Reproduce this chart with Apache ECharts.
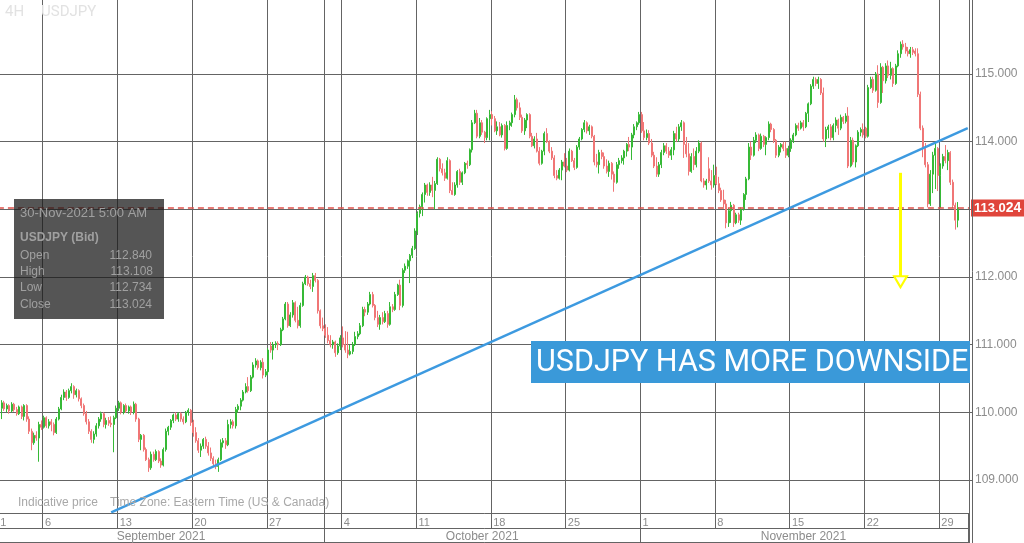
<!DOCTYPE html>
<html><head><meta charset="utf-8">
<script src="https://cdn.jsdelivr.net/npm/echarts/dist/echarts.min.js"></script>
<style>html,body{margin:0;padding:0;background:#fff}#c{width:1024px;height:543px}</style>
</head><body><div id="c"></div><script>
// ---- DATA: 4H USDJPY candles [open, close, low, high] ----
const wk0 = [[110.30,110.06,110.02,110.38],[110.06,110.14,109.90,110.18],[110.14,110.05,110.02,110.17],[110.05,110.10,110.00,110.13],[110.10,110.02,109.98,110.12],[110.02,110.12,110.00,110.15],[110.12,110.04,110.01,110.14],[110.04,109.98,109.95,110.08],[109.98,110.08,109.96,110.10],[110.08,109.94,109.90,110.10],[109.94,110.10,109.88,110.12],[110.10,109.90,109.86,110.12],[109.90,109.72,109.68,109.94],[109.72,109.55,109.44,109.76],[109.55,109.66,109.52,109.70],[109.66,109.62,109.58,109.72],[109.62,109.82,109.27,109.86],[109.82,109.78,109.74,109.88]];
const wk1 = [[109.78,109.92,109.76,109.95],[109.92,109.80,109.77,109.94],[109.80,109.86,109.76,109.90],[109.86,109.82,109.72,109.90],[109.82,109.70,109.66,109.85],[109.70,109.90,109.68,109.93],[109.90,110.05,109.88,110.08],[110.05,110.22,110.03,110.26],[110.22,110.30,110.18,110.34],[110.30,110.22,110.17,110.33],[110.22,110.32,110.20,110.35],[110.32,110.38,110.28,110.43],[110.38,110.26,110.20,110.40],[110.26,110.32,110.22,110.35],[110.32,110.20,110.16,110.34],[110.20,110.10,110.06,110.22],[110.10,109.98,109.95,110.13],[109.98,109.86,109.82,110.02],[109.86,109.72,109.68,109.90],[109.72,109.60,109.55,109.75],[109.60,109.68,109.54,109.72],[109.68,109.80,109.64,109.84],[109.80,109.90,109.76,109.93],[109.90,109.98,109.86,110.01],[109.98,109.82,109.78,110.00],[109.82,109.88,109.76,109.92],[109.88,109.84,109.80,109.93],[109.84,109.82,109.78,109.94],[109.82,109.92,109.41,109.95],[109.92,110.06,109.90,110.10]];
const wk2 = [[110.06,110.14,110.02,110.17],[110.14,110.00,109.97,110.16],[110.00,110.10,109.97,110.12],[110.10,110.02,109.99,110.13],[110.02,110.08,109.98,110.10],[110.08,110.00,109.96,110.10],[110.00,110.12,109.97,110.16],[110.12,109.90,109.86,110.14],[109.90,109.60,109.56,109.92],[109.60,109.66,109.44,109.68],[109.66,109.45,109.42,109.68],[109.45,109.30,109.28,109.48],[109.30,109.18,109.12,109.33],[109.18,109.38,109.15,109.42],[109.38,109.30,109.27,109.42],[109.30,109.42,109.28,109.45],[109.42,109.28,109.25,109.44],[109.28,109.22,109.18,109.32],[109.22,109.45,109.20,109.48],[109.45,109.72,109.42,109.76],[109.72,109.78,109.66,109.80],[109.78,109.88,109.74,109.90],[109.88,109.96,109.84,109.98],[109.96,109.90,109.87,110.00],[109.90,109.98,109.86,110.00],[109.98,109.90,109.86,110.00],[109.90,109.86,109.82,109.94],[109.86,110.00,109.84,110.02],[110.00,110.03,109.95,110.06],[110.03,109.85,109.80,110.05]];
const wk3 = [[109.85,109.70,109.64,109.89],[109.70,109.58,109.55,109.78],[109.58,109.44,109.40,109.62],[109.44,109.50,109.34,109.54],[109.50,109.60,109.46,109.62],[109.60,109.50,109.46,109.64],[109.50,109.40,109.36,109.56],[109.40,109.32,109.28,109.48],[109.32,109.24,109.20,109.35],[109.24,109.20,109.16,109.30],[109.20,109.30,109.12,109.33],[109.30,109.55,109.28,109.60],[109.55,109.58,109.48,109.62],[109.58,109.52,109.46,109.62],[109.52,109.82,109.50,109.89],[109.82,109.86,109.76,109.90],[109.86,109.80,109.76,109.89],[109.80,110.04,109.76,110.08],[110.04,110.09,110.00,110.12],[110.09,110.18,110.03,110.21],[110.18,110.30,110.16,110.33],[110.30,110.38,110.28,110.43],[110.38,110.32,110.29,110.52],[110.32,110.52,110.30,110.55],[110.52,110.70,110.50,110.74],[110.70,110.76,110.66,110.80],[110.76,110.66,110.63,110.78],[110.66,110.74,110.62,110.77],[110.74,110.55,110.50,110.80],[110.55,110.60,110.52,110.64]];
const wk4 = [[110.60,110.92,110.55,110.95],[110.98,110.92,110.88,111.04],[110.92,111.00,110.78,111.04],[111.00,111.02,110.95,111.05],[111.02,111.00,110.92,111.05],[111.00,111.22,110.98,111.25],[111.22,111.38,111.20,111.41],[111.38,111.60,111.36,111.63],[111.60,111.28,111.25,111.63],[111.28,111.44,111.26,111.48],[111.44,111.62,111.40,111.66],[111.62,111.36,111.33,111.64],[111.36,111.28,111.24,111.56],[111.28,111.58,111.25,111.62],[111.58,111.90,111.56,111.93],[111.90,112.00,111.88,112.03],[112.00,111.90,111.87,112.02],[111.90,111.86,111.82,111.96],[111.86,112.02,111.78,112.06],[112.02,111.95,111.92,112.06],[111.95,111.50,111.46,111.97],[111.50,111.28,111.24,111.52],[111.28,111.24,111.20,111.40],[111.24,111.14,111.10,111.30],[111.14,111.06,111.02,111.26],[111.06,111.00,110.96,111.14],[111.00,111.04,110.94,111.07],[111.04,110.88,110.82,111.06],[110.88,110.98,110.85,111.02],[110.98,111.10,110.92,111.14]];
const wk5 = [[111.10,111.00,110.96,111.27],[111.00,110.92,110.88,111.20],[110.92,110.86,110.80,111.19],[110.86,110.90,110.84,111.00],[110.90,111.00,110.86,111.04],[111.00,111.12,110.98,111.19],[111.12,111.16,111.08,111.20],[111.16,111.28,111.14,111.32],[111.28,111.52,111.26,111.56],[111.52,111.48,111.42,111.56],[111.48,111.60,111.44,111.63],[111.60,111.74,111.58,111.78],[111.74,111.58,111.55,111.78],[111.58,111.40,111.36,111.60],[111.40,111.30,111.26,111.50],[111.30,111.40,111.22,111.44],[111.40,111.34,111.30,111.48],[111.34,111.46,111.32,111.50],[111.46,111.30,111.25,111.50],[111.30,111.56,111.28,111.63],[111.56,111.52,111.48,111.60],[111.52,111.74,111.50,111.78],[111.74,111.88,111.72,111.90],[111.88,111.58,111.51,111.96],[111.58,112.10,111.55,112.13],[112.10,112.16,112.06,112.20],[112.16,112.24,112.12,112.26],[112.24,112.32,111.91,112.34],[112.32,112.42,112.28,112.46],[112.42,112.68,112.40,112.72]];
const wk6 = [[112.68,112.94,112.62,112.97],[112.94,113.04,112.88,113.07],[113.04,113.22,112.90,113.25],[113.22,113.36,113.10,113.39],[113.36,113.25,113.20,113.38],[113.25,113.36,113.20,113.40],[113.36,113.28,113.18,113.48],[113.28,113.38,113.00,113.42],[113.38,113.74,113.36,113.77],[113.74,113.60,113.56,113.76],[113.60,113.54,113.50,113.68],[113.54,113.46,113.42,113.60],[113.46,113.72,113.44,113.77],[113.72,113.28,113.24,113.74],[113.28,113.22,113.21,113.40],[113.22,113.36,113.20,113.40],[113.36,113.56,113.32,113.58],[113.56,113.40,113.36,113.60],[113.40,113.54,113.36,113.56],[113.54,113.68,113.52,113.70],[113.68,113.66,113.60,113.72],[113.66,113.88,113.64,113.90],[113.88,114.28,113.84,114.32],[114.28,114.42,114.26,114.47],[114.42,114.08,114.05,114.47],[114.08,114.28,114.05,114.35],[114.28,114.14,114.10,114.32],[114.14,114.06,113.98,114.16],[114.06,114.34,114.02,114.36],[114.34,114.40,114.02,114.47]];
const wk7 = [[114.40,114.34,114.24,114.45],[114.34,114.16,114.14,114.38],[114.16,114.22,114.10,114.30],[114.22,114.10,114.08,114.29],[114.10,114.24,114.06,114.27],[114.24,113.90,113.87,114.26],[113.90,114.24,113.88,114.30],[114.24,114.28,114.17,114.31],[114.28,114.40,114.22,114.43],[114.40,114.62,114.36,114.69],[114.62,114.50,114.46,114.65],[114.50,114.36,114.32,114.58],[114.36,114.16,114.13,114.40],[114.16,114.32,114.10,114.35],[114.32,114.40,114.20,114.42],[114.40,114.08,114.05,114.42],[114.08,113.94,113.92,114.13],[113.94,114.04,113.90,114.08],[114.04,113.86,113.84,114.13],[113.86,113.68,113.65,113.92],[113.68,113.86,113.66,113.88],[113.86,114.12,113.80,114.15],[114.12,114.00,113.98,114.20],[114.00,113.86,113.83,114.02],[113.86,113.76,113.73,113.92],[113.76,113.50,113.46,113.80],[113.50,113.46,113.43,113.58],[113.46,113.58,113.44,113.61],[113.58,113.70,113.43,113.73],[113.70,113.64,113.62,113.83]];
const wk8 = [[113.64,113.58,113.55,113.76],[113.58,113.86,113.56,113.90],[113.86,113.72,113.70,113.88],[113.72,113.62,113.58,113.76],[113.62,113.92,113.60,113.95],[113.92,114.04,113.88,114.07],[114.04,114.18,114.02,114.20],[114.18,114.28,114.14,114.32],[114.28,114.16,114.12,114.30],[114.16,114.22,114.10,114.25],[114.22,114.08,114.05,114.24],[114.08,113.70,113.65,114.10],[113.70,113.66,113.62,113.82],[113.66,113.84,113.53,113.88],[113.84,113.78,113.74,113.88],[113.78,113.64,113.60,113.84],[113.64,113.56,113.53,113.74],[113.56,113.68,113.48,113.72],[113.68,113.52,113.44,113.70],[113.52,113.40,113.26,113.56],[113.40,113.66,113.38,113.70],[113.66,113.72,113.60,113.76],[113.72,113.76,113.68,113.80],[113.76,113.86,113.66,113.88],[113.86,113.96,113.78,113.98],[113.96,113.92,113.86,114.07],[113.92,114.10,113.73,114.13],[114.10,114.22,114.05,114.26],[114.22,114.28,114.17,114.30],[114.28,114.40,114.25,114.44]];
const wk9 = [[114.40,114.16,114.13,114.44],[114.16,114.06,114.02,114.29],[114.06,114.12,114.02,114.18],[114.12,113.98,113.95,114.17],[113.98,113.80,113.77,114.04],[113.80,113.64,113.61,113.85],[113.64,113.52,113.48,113.77],[113.52,113.66,113.48,113.70],[113.66,113.84,113.61,113.88],[113.84,113.94,113.80,113.98],[113.94,113.86,113.82,113.98],[113.86,113.80,113.76,113.92],[113.80,113.88,113.73,113.92],[113.88,114.12,113.80,114.16],[114.12,114.04,114.00,114.22],[114.04,114.22,114.00,114.26],[114.22,114.28,114.16,114.32],[114.28,113.96,113.76,114.30],[113.96,113.82,113.77,114.07],[113.82,113.56,113.50,113.98],[113.56,113.78,113.54,113.83],[113.78,113.66,113.58,113.90],[113.66,113.86,113.62,113.92],[113.86,113.98,113.83,114.02],[113.98,113.42,113.40,114.00],[113.42,113.36,113.32,113.46],[113.36,113.42,113.29,113.45],[113.60,113.42,113.39,113.77],[113.42,113.36,113.29,113.58],[113.36,113.50,113.32,113.66]];
const wk10 = [[113.50,113.38,113.36,113.63],[113.38,113.28,113.24,113.48],[113.28,113.14,113.11,113.32],[113.14,113.08,113.03,113.29],[113.08,112.80,112.72,113.14],[112.80,112.98,112.74,113.02],[112.98,113.06,112.80,113.11],[113.06,112.80,112.74,113.08],[112.80,112.92,112.78,112.95],[112.92,112.84,112.80,112.95],[112.84,113.00,112.77,113.03],[113.00,113.22,112.98,113.24],[113.22,113.45,113.14,113.48],[113.45,113.92,113.43,113.98],[113.92,113.80,113.73,114.00],[113.80,114.02,113.78,114.07],[114.02,114.10,113.98,114.14],[114.10,113.90,113.86,114.12],[113.90,114.08,113.88,114.12],[114.08,113.96,113.92,114.10],[113.96,114.06,113.80,114.08],[114.06,114.26,114.02,114.30],[114.26,114.18,114.14,114.28],[114.18,114.02,113.98,114.20],[114.02,113.80,113.76,114.04],[113.80,113.92,113.77,113.95],[113.92,113.96,113.84,113.98],[113.96,113.90,113.86,114.00],[113.90,113.80,113.76,114.00],[113.80,113.90,113.77,113.94]];
const wk11 = [[113.90,114.02,113.85,114.05],[114.02,114.10,113.98,114.13],[114.10,114.24,114.08,114.27],[114.24,114.20,114.16,114.28],[114.20,114.28,114.18,114.31],[114.28,114.22,114.16,114.32],[114.22,114.42,114.20,114.44],[114.42,114.56,114.29,114.58],[114.56,114.82,114.54,114.85],[114.82,114.92,114.78,114.96],[114.92,114.86,114.82,114.95],[114.86,114.92,114.78,114.96],[114.92,114.72,114.69,114.94],[114.72,114.04,114.00,114.80],[114.04,114.18,113.92,114.22],[114.18,114.22,114.05,114.25],[114.22,114.06,114.02,114.26],[114.06,114.24,114.02,114.27],[114.24,114.32,114.14,114.36],[114.32,114.20,114.10,114.34],[114.20,114.36,114.17,114.40],[114.36,114.30,114.26,114.38],[114.30,114.38,114.27,114.42],[114.38,113.64,113.61,114.51],[113.64,114.02,113.62,114.07],[114.02,113.70,113.66,114.06],[113.70,113.94,113.62,113.96],[113.94,114.14,113.92,114.17],[114.14,114.18,114.08,114.21],[114.18,114.10,114.06,114.27]];
const wk12 = [[114.20,114.08,114.05,114.22],[114.08,114.80,114.06,114.84],[114.80,114.92,114.78,114.96],[114.92,114.76,114.72,114.96],[114.76,115.00,114.74,115.03],[115.00,114.58,114.50,115.13],[114.58,115.10,114.56,115.16],[115.10,114.90,114.72,115.12],[114.90,115.12,114.86,115.16],[115.12,114.98,114.94,115.20],[114.98,115.08,114.92,115.18],[115.08,114.86,114.81,115.10],[114.86,115.12,114.84,115.15],[115.12,115.30,115.10,115.35],[115.30,115.44,115.24,115.48],[115.44,115.40,115.36,115.50],[115.40,115.34,115.30,115.46],[115.34,115.30,115.26,115.40],[115.30,115.36,115.24,115.40],[115.36,115.32,115.28,115.40],[115.34,115.30,115.26,115.38],[115.30,114.70,114.66,115.38],[114.70,114.20,114.17,114.74],[114.20,113.90,113.77,114.24],[113.90,113.66,113.62,113.98],[113.66,113.08,113.03,113.70],[113.08,113.52,113.05,113.58],[113.52,113.80,113.24,113.85],[113.80,113.90,113.30,113.98],[113.90,113.50,113.27,113.92]];
const wk13 = [[113.50,113.64,113.02,113.68],[113.64,113.78,113.60,113.82],[113.78,113.72,113.68,113.95],[113.72,113.84,113.58,113.88],[113.84,113.40,113.36,113.86],[113.40,113.06,113.02,113.44],[113.06,112.84,112.70,113.10],[112.840,113.024,112.734,113.108]];

const slotCount = 390;                       // 4H slots shown on the axis
const priceTicks = [109,110,111,112,113,114,115];
const yMin = 108.512, yMax = 116.094;
const dayTickSlots  = [0,18,48,78,108,138,168,198,228,258,288,318,348,378];
const dayTickLabels = ['1','6','13','20','27','4','11','18','25','1','8','15','22','29'];
const monthBoundarySlots = [131,258];
const monthLabelSlots = [65,194,323];
const monthLabels = ['September 2021','October 2021','November 2021'];
const lastPrice = 113.024;
const trendStart = [45,108.52], trendEnd = [389,114.20];
const arrowSlot = 362, arrowTop = 113.54, arrowBottom = 112.00, arrowHead = 111.93;
const lastBar = {date:'30-Nov-2021 5:00 AM', open:'112.840', high:'113.108', low:'112.734', close:'113.024'};

const candles = [].concat(wk0,wk1,wk2,wk3,wk4,wk5,wk6,wk7,wk8,wk9,wk10,wk11,wk12,wk13);
const cats = []; for (let i=0;i<slotCount;i++) cats.push('s'+i);
const gridSet = new Set(dayTickSlots.concat(monthBoundarySlots));

const chart = echarts.init(document.getElementById('c'), null, {renderer:'canvas'});
const gridCol = '#646464';
const lbl = '#8c8c8c';
chart.setOption({
  animation:false,
  backgroundColor:'#fff',
  grid:{left:-2.1, right:55, top:0, bottom:30, outerBoundsMode:'none', containLabel:false},
  xAxis:[
    {type:'category', data:cats, boundaryGap:true,
     axisLine:{show:true, lineStyle:{color:gridCol}},
     axisTick:{show:true, length:15, interval:(i)=>gridSet.has(i)&&i>0, lineStyle:{color:gridCol}},
     splitLine:{show:true, interval:(i)=>gridSet.has(i)&&i>0, lineStyle:{color:gridCol, width:1}},
     axisLabel:{show:true, interval:(i)=>dayTickSlots.indexOf(i)>=0, formatter:(v,i)=>dayTickLabels[dayTickSlots.indexOf(i)],
       align:'left', margin:4, padding:[0,0,0,1], color:lbl, fontSize:11, fontFamily:'Liberation Sans'}},
    {type:'category', data:cats, boundaryGap:true, position:'bottom', offset:15,
     axisLine:{show:true, lineStyle:{color:gridCol}},
     axisTick:{show:true, length:15, interval:(i)=>monthBoundarySlots.indexOf(i)>=0, lineStyle:{color:gridCol}},
     splitLine:{show:false},
     axisLabel:{show:true, interval:(i)=>monthLabelSlots.indexOf(i)>=0, formatter:(v,i)=>monthLabels[monthLabelSlots.indexOf(i)],
       align:'center', margin:3, color:lbl, fontSize:12, fontFamily:'Liberation Sans'}},
    {type:'category', data:cats, position:'bottom', offset:29,
     axisLine:{show:true, lineStyle:{color:gridCol}}, axisTick:{show:false}, axisLabel:{show:false}, splitLine:{show:false}}
  ],
  yAxis:[{type:'value', position:'right', min:yMin, max:yMax, scale:true,
    axisLine:{show:true, lineStyle:{color:gridCol}},
    axisTick:{show:true, length:3, customValues:priceTicks, lineStyle:{color:gridCol}},
    axisLabel:{show:true, customValues:priceTicks, formatter:(v)=>v.toFixed(3), color:lbl, fontSize:12, margin:6, fontFamily:'Liberation Sans'},
    splitLine:{show:true, lineStyle:{color:gridCol, width:1}}
  }],
  series:[{
    type:'candlestick', xAxisIndex:0, yAxisIndex:0, data:candles, barWidth:1.5, z:2,
    itemStyle:{color:'#36b936', color0:'#f07676', borderColor:'#36b936', borderColor0:'#f07676', borderWidth:1},
    markLine:{silent:true, symbol:'none', animation:false,
      data:[
        {yAxis:lastPrice, lineStyle:{color:'#e0504a', type:[6,4], width:1.5},
         label:{show:true, position:'end', distance:2, formatter:'{a|113.0}{b|24}', backgroundColor:'#e0453b', padding:[2,3,1,3],
           rich:{a:{color:'#fff', fontSize:13, fontWeight:'bold', fontFamily:'Liberation Sans'}, b:{color:'#fff', fontSize:14, fontWeight:'bold', fontFamily:'Liberation Sans'}}}},
        [{coord:trendStart, lineStyle:{color:'#3d9ae0', width:2.5, type:'solid'}, label:{show:false}},{coord:trendEnd}],
        [{coord:[arrowSlot,arrowTop], lineStyle:{color:'#ffff00', width:3, type:'solid'}, label:{show:false}},{coord:[arrowSlot,arrowBottom]}]
      ]},
    markPoint:{silent:true, animation:false, data:[{coord:[arrowSlot,arrowHead], symbol:'triangle', symbolSize:[13,11], symbolRotate:180,
      itemStyle:{color:'#ffffff', borderColor:'#ffff00', borderWidth:2}, label:{show:false}}]}
  }],
  graphic:[
    {type:'text', left:5, top:5, z:100, style:{text:'4H', fill:'#e2e2e2', font:'15px Roboto'}},
    {type:'text', left:41, top:5, z:100, style:{text:'USDJPY', fill:'#e2e2e2', font:'15px Roboto'}},
    {type:'text', left:18, top:497, z:100, style:{text:'Indicative price', fill:'#a8a8a8', font:'12px "Liberation Sans"'}},
    {type:'text', left:110, top:497, z:100, style:{text:'Time Zone: Eastern Time (US & Canada)', fill:'#a8a8a8', font:'12px "Liberation Sans"'}},
    {type:'group', left:14, top:199, z:100, children:[
      {type:'rect', z:100, shape:{x:0,y:0,width:150,height:120}, style:{fill:'rgba(25,25,25,0.74)'}},
      {type:'text', z:101, x:6, y:8, style:{text:lastBar.date, fill:'#a0a0a0', font:'13px "Liberation Sans"'}},
      {type:'text', z:101, x:6, y:33, style:{text:'USDJPY (Bid)', fill:'#a0a0a0', font:'bold 12px "Liberation Sans"'}},
      {type:'text', z:101, x:6, y:51, style:{text:'Open', fill:'#a0a0a0', font:'12px "Liberation Sans"'}},
      {type:'text', z:101, x:6, y:67, style:{text:'High', fill:'#a0a0a0', font:'12px "Liberation Sans"'}},
      {type:'text', z:101, x:6, y:83, style:{text:'Low', fill:'#a0a0a0', font:'12px "Liberation Sans"'}},
      {type:'text', z:101, x:6, y:100, style:{text:'Close', fill:'#a0a0a0', font:'12px "Liberation Sans"'}},
      {type:'text', z:101, x:138, y:51, style:{text:lastBar.open, fill:'#a0a0a0', font:'12px "Liberation Sans"', align:'right'}},
      {type:'text', z:101, x:139, y:67, style:{text:lastBar.high, fill:'#a0a0a0', font:'12px "Liberation Sans"', align:'right'}},
      {type:'text', z:101, x:138, y:83, style:{text:lastBar.low, fill:'#a0a0a0', font:'12px "Liberation Sans"', align:'right'}},
      {type:'text', z:101, x:138, y:100, style:{text:lastBar.close, fill:'#a0a0a0', font:'12px "Liberation Sans"', align:'right'}}
    ]},
    {type:'group', left:531, top:341, z:100, children:[
      {type:'rect', z:100, shape:{x:0,y:0,width:439,height:42}, style:{fill:'#3a99d9'}},
      {type:'text', z:101, x:5, y:22, style:{text:'USDJPY HAS MORE DOWNSIDE', fill:'#fff', font:'30.5px Roboto', verticalAlign:'middle'}}
    ]},
    {type:'line', z:100, shape:{x1:972.5,y1:0,x2:972.5,y2:543}, style:{stroke:gridCol, lineWidth:1}},
    {type:'line', z:100, shape:{x1:968.5,y1:513,x2:968.5,y2:543}, style:{stroke:gridCol, lineWidth:1}}
  ]
});
</script></body></html>
